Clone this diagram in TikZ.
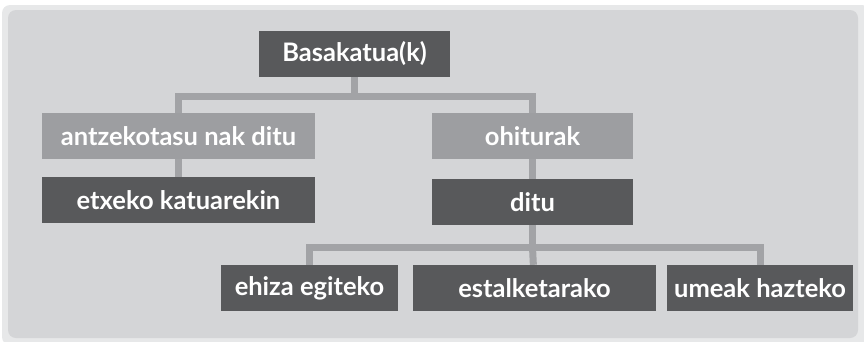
\documentclass[tikz,border=0pt]{standalone}
\usepackage{fontspec}
\setmainfont{Lato}
\usetikzlibrary{positioning,backgrounds}

\definecolor{panelgray}{HTML}{D4D5D7}
\definecolor{framegray}{HTML}{E7E8E9}
\definecolor{darkbox}{HTML}{58595B}
\definecolor{lightbox}{HTML}{9D9EA1}
\definecolor{linkgray}{HTML}{A2A3A6}

\tikzset{
  darknode/.style={fill=darkbox, text=white, font=\fontsize{25.5}{28}\selectfont\bfseries,
    minimum height=46, inner sep=0pt},
  lightnode/.style={darknode, fill=lightbox},
  link/.style={draw=linkgray, line width=7, line join=miter},
}

\begin{document}
\begin{tikzpicture}[x=1pt,y=-1pt]
\useasboundingbox (0,0) rectangle (864,341);

\node[darknode, minimum width=191] (root) at (354.5,54) {Basakatua(k)};
\node[lightnode, minimum width=273] (ant) at (178.5,136) {antzekotasu nak ditu};
\node[darknode, minimum width=273] (etx) at (178.5,200) {etxeko katuarekin};
\node[lightnode, minimum width=201] (ohi) at (532.5,136) {ohiturak};
\node[darknode, minimum width=201] (ditu) at (532.5,202) {ditu};
\node[darknode, minimum width=177] (ehiza) at (309.5,288) {ehiza egiteko};
\node[darknode, minimum width=243] (estal) at (534.5,288) {estalketarako};
\node[darknode, minimum width=186] (ume) at (760,288) {umeak hazteko};

% junctions of the two bars
\coordinate (j1) at (354.5,96.5);
\coordinate (j2) at (532.5,247.5);

\begin{scope}[on background layer]
% panel behind the tree
\fill[framegray, rounded corners=8] (2,5) rectangle (870,345);
\fill[panelgray, rounded corners=8] (8,10) rectangle (858,338);
% connectors, the boxes cover their ends
\draw[link] (root) -- (j1) -| (ant);
\draw[link] (j1) -| (ohi);
\draw[link] (ant) -- (etx);
\draw[link] (ohi) -- (ditu);
\draw[link] (ditu) -- (j2) -| (ehiza);
\draw[link] (j2) -| (ume);
\draw[link] (j2) -- (estal);
\end{scope}
\end{tikzpicture}
\end{document}
